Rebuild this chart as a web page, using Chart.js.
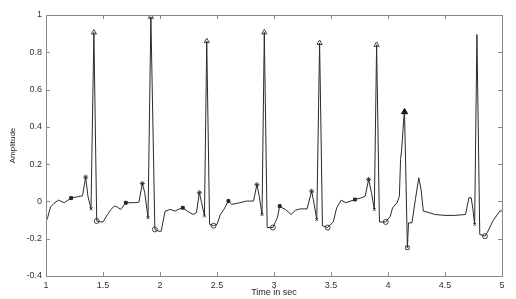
<!DOCTYPE html>
<html>
<head>
<meta charset="utf-8">
<script src="https://cdn.jsdelivr.net/npm/chart.js@4"></script>
<style>
  html, body { margin: 0; padding: 0; background: #fff; }
  #wrap { width: 516px; height: 299px; }
</style>
</head>
<body>
<div id="wrap"><canvas id="ecg-chart" width="516" height="299"></canvas></div>
<script>
// ECG trace (time in sec, amplitude)
const timeSec = [
  1.00, 1.015, 1.04, 1.07, 1.11, 1.16, 1.20, 1.22, 1.275, 1.32, 1.348, 1.368, 1.395, 1.42, 1.445,
  1.48, 1.50, 1.54, 1.57, 1.60, 1.625, 1.655, 1.70, 1.77, 1.815, 1.845, 1.866, 1.895, 1.92, 1.955,
  1.99, 2.01, 2.045, 2.09, 2.13, 2.16, 2.20, 2.24, 2.29, 2.32, 2.345, 2.365, 2.39, 2.41, 2.435,
  2.47, 2.50, 2.53, 2.56, 2.60, 2.63, 2.70, 2.76, 2.82, 2.85, 2.87, 2.895, 2.915, 2.94,
  2.99, 3.03, 3.05, 3.07, 3.10, 3.15, 3.19, 3.23, 3.29, 3.33, 3.345, 3.375, 3.40, 3.425,
  3.47, 3.52, 3.55, 3.59, 3.63, 3.71, 3.77, 3.80, 3.83, 3.855, 3.88, 3.90, 3.925,
  3.98, 4.02, 4.04, 4.08, 4.10, 4.11, 4.12, 4.14, 4.145, 4.17, 4.18, 4.21, 4.24, 4.27, 4.29,
  4.31, 4.36, 4.41, 4.50, 4.59, 4.68, 4.71, 4.73, 4.745, 4.76, 4.78, 4.805, 4.85, 4.87, 4.92,
  4.98, 5.00
];
const amplitude = [
  -0.11, -0.085, -0.03, -0.01, 0.007, -0.007, 0.01, 0.018, 0.025, 0.03, 0.13, 0.028, -0.04, 0.906, -0.105,
  -0.11, -0.11, -0.07, -0.043, -0.025, -0.03, -0.043, -0.007, -0.007, -0.004, 0.096, 0.047, -0.087, 0.99, -0.15,
  -0.16, -0.16, -0.052, -0.043, -0.052, -0.043, -0.034, -0.052, -0.07, -0.06, 0.047, -0.007, -0.078, 0.86, -0.123,
  -0.13, -0.123, -0.07, -0.043, 0.002, -0.016, -0.007, 0.002, 0.002, 0.09, 0.03, -0.07, 0.907, -0.14,
  -0.14, -0.087, -0.025, -0.034, -0.043, -0.07, -0.047, -0.04, -0.04, 0.055, 0.01, -0.097, 0.85, -0.13,
  -0.14, -0.11, -0.034, 0.007, -0.007, 0.01, 0.02, 0.028, 0.118, 0.047, -0.043, 0.84, -0.11,
  -0.11, -0.08, -0.034, -0.007, 0.028, 0.225, 0.28, 0.457, 0.48, -0.248, -0.115, -0.115, 0.01, 0.127, 0.064,
  -0.052, -0.06, -0.07, -0.075, -0.075, -0.07, 0.02, 0.02, -0.043, -0.123, 0.895, -0.177, -0.186, -0.168, -0.105,
  -0.052, -0.05
];

// detected points (markers)
const rPeakTimes = [1.42, 1.92, 2.41, 2.915, 3.40, 3.90];
const rPeakValues = [0.906, 0.99, 0.86, 0.907, 0.85, 0.84];
const pvcTimes = [4.145];
const pvcValues = [0.48];
const pvcLowTimes = [4.17];
const pvcLowValues = [-0.248];
const pPeakTimes = [1.348, 1.845, 2.345, 2.85, 3.33, 3.83];
const pPeakValues = [0.13, 0.096, 0.047, 0.09, 0.055, 0.118];
const qTimes = [1.395, 1.895, 2.39, 2.895, 3.375, 3.88, 4.76];
const qValues = [-0.04, -0.087, -0.078, -0.07, -0.097, -0.043, -0.123];
const sTimes = [1.445, 1.955, 2.47, 2.99, 3.47, 3.98, 4.85];
const sValues = [-0.105, -0.15, -0.13, -0.14, -0.14, -0.11, -0.186];
const tTimes = [1.22, 1.70, 2.20, 2.60, 3.05, 3.71];
const tValues = [0.018, -0.007, -0.034, 0.002, -0.025, 0.01];

const xTicks = [1, 1.5, 2, 2.5, 3, 3.5, 4, 4.5, 5];
const yTicks = [-0.4, -0.2, 0, 0.2, 0.4, 0.6, 0.8, 1];

function pairs(xs, ys) {
    return xs.map((x, i) => ({ x: x, y: ys[i] }));
}

const markColor = '#444';

// matlab style box with inward ticks
const boxPlugin = {
    id: 'box',
    afterDraw(chart) {
        const ctx = chart.ctx;
        const a = chart.chartArea;
        const xs = chart.scales.x, ys = chart.scales.y;
        ctx.save();
        ctx.strokeStyle = '#8a8a8a';
        ctx.lineWidth = 1;
        ctx.strokeRect(a.left + 0.5, a.top + 0.5, a.right - a.left, a.bottom - a.top);
        ctx.beginPath();
        xTicks.forEach(v => {
            const px = Math.round(xs.getPixelForValue(v)) + 0.5;
            ctx.moveTo(px, a.bottom); ctx.lineTo(px, a.bottom - 4);
            ctx.moveTo(px, a.top); ctx.lineTo(px, a.top + 4);
        });
        yTicks.forEach(v => {
            const py = Math.round(ys.getPixelForValue(v)) + 0.5;
            ctx.moveTo(a.left, py); ctx.lineTo(a.left + 4, py);
            ctx.moveTo(a.right, py); ctx.lineTo(a.right - 4, py);
        });
        ctx.stroke();
        ctx.restore();
    }
};

const tickFont = { family: 'Liberation Sans', size: 9 };
const plainNumber = v => String(+Number(v).toFixed(2));

new Chart(document.getElementById('ecg-chart'), {
    type: 'scatter',
    data: {
        datasets: [
            {
                label: 'ECG',
                data: pairs(timeSec, amplitude),
                showLine: true,
                borderColor: '#2a2a2a',
                borderWidth: 1,
                pointRadius: 0,
                tension: 0
            },
            {
                label: 'R',
                data: pairs(rPeakTimes, rPeakValues),
                pointStyle: 'triangle',
                pointRadius: 3,
                borderColor: markColor,
                backgroundColor: 'rgba(0,0,0,0)',
                borderWidth: 1
            },
            {
                label: 'PVC',
                data: pairs(pvcTimes, pvcValues),
                pointStyle: 'triangle',
                pointRadius: 3.5,
                borderColor: '#111',
                backgroundColor: '#111',
                borderWidth: 1
            },
            {
                label: 'PVC low',
                data: pairs(pvcLowTimes, pvcLowValues),
                pointStyle: 'rect',
                pointRadius: 2.5,
                borderColor: markColor,
                backgroundColor: 'rgba(0,0,0,0)',
                borderWidth: 1
            },
            {
                label: 'P',
                data: pairs(pPeakTimes, pPeakValues),
                pointStyle: 'star',
                pointRadius: 2.5,
                borderColor: markColor,
                borderWidth: 1
            },
            {
                label: 'Q',
                data: pairs(qTimes, qValues),
                pointStyle: 'crossRot',
                pointRadius: 2,
                borderColor: markColor,
                borderWidth: 1
            },
            {
                label: 'S',
                data: pairs(sTimes, sValues),
                pointStyle: 'circle',
                pointRadius: 2.5,
                borderColor: markColor,
                backgroundColor: 'rgba(0,0,0,0)',
                borderWidth: 1
            },
            {
                label: 'T',
                data: pairs(tTimes, tValues),
                pointStyle: 'rect',
                pointRadius: 2,
                borderColor: '#222',
                backgroundColor: '#222',
                borderWidth: 1
            }
        ]
    },
    options: {
        responsive: false,
        animation: false,
        events: [],
        layout: { padding: { top: 15, right: 14, left: 0, bottom: 0 } },
        scales: {
            x: {
                type: 'linear',
                min: 1,
                max: 5,
                afterBuildTicks: s => { s.ticks = xTicks.map(v => ({ value: v })); },
                afterFit: s => { s.height = 23; },
                grid: { display: false, drawTicks: false },
                border: { display: false },
                ticks: { color: '#333', font: tickFont, padding: 4, maxRotation: 0, callback: plainNumber },
                title: {
                    display: true,
                    text: 'Time in sec',
                    color: '#222',
                    font: { family: 'Liberation Sans', size: 9 },
                    padding: { top: 0, bottom: 1 }
                }
            },
            y: {
                min: -0.4,
                max: 1,
                afterBuildTicks: s => { s.ticks = yTicks.map(v => ({ value: v })); },
                afterFit: s => { s.width = 46; },
                grid: { display: false, drawTicks: false },
                border: { display: false },
                ticks: { color: '#333', font: tickFont, padding: 4, callback: plainNumber },
                title: {
                    display: true,
                    text: 'Amplitude',
                    color: '#222',
                    font: { family: 'Liberation Sans', size: 8 },
                    padding: { top: 8, bottom: 0 }
                }
            }
        },
        plugins: {
            legend: { display: false },
            tooltip: { enabled: false }
        }
    },
    plugins: [boxPlugin]
});
</script>
</body>
</html>
